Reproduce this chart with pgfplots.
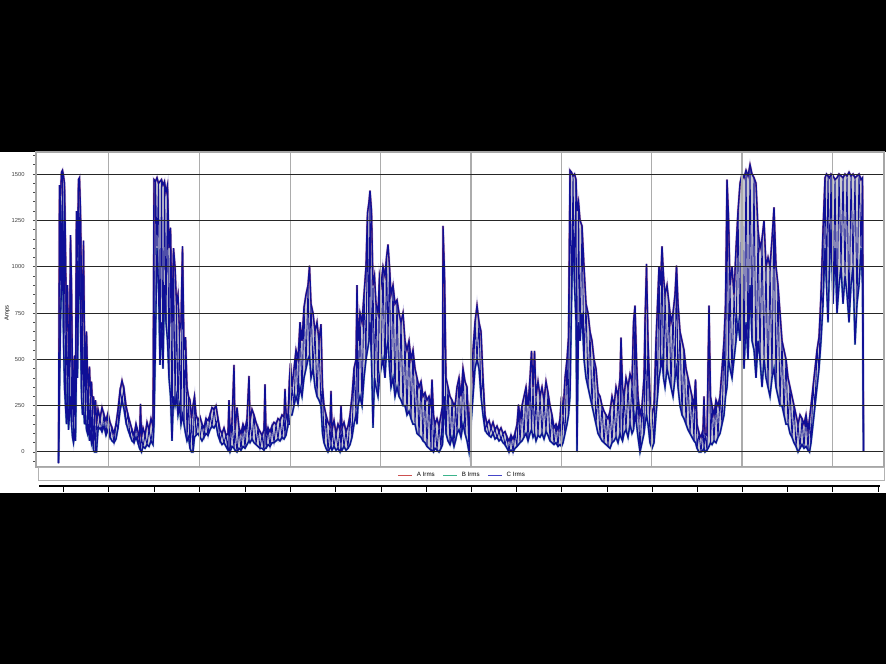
\documentclass[border=0pt]{standalone}
\usepackage{fontspec}
\setmainfont{Liberation Sans}
\usepackage{pgfplots}
\usepackage{pgfplotstable}
\pgfplotsset{compat=1.18}
\definecolor{cblue}{RGB}{15,15,150}
\definecolor{halo}{RGB}{120,120,205}
\definecolor{ared}{RGB}{190,30,30}
\definecolor{bteal}{RGB}{20,160,120}
\definecolor{fillgray}{RGB}{200,200,207}
\definecolor{lgred}{RGB}{205,80,80}
\definecolor{lgteal}{RGB}{60,180,140}
\definecolor{lgblue}{RGB}{70,70,200}

% x = sample position (horizontal pixel); hi/lo = upper and lower trace, c = C phase, in amps
\pgfplotstableread{
x hi lo c
58.5 -60 -60 -60
59.5 1440 320 320
60.5 1380 700 1380
61.5 1510 900 900
62.5 1520 1300 1520
63.5 1490 600 600
64.5 1450 350 1450
65.5 1100 250 250
66.5 650 150 650
67.5 900 400 400
68.5 550 120 550
69.5 480 200 200
70.5 1170 300 1170
71.5 900 150 150
72.5 420 80 420
73.5 300 50 50
74.5 520 100 520
75.5 350 60 60
76.5 1300 500 1300
77.5 1050 400 400
78.5 1470 900 1470
79.5 1480 1100 1100
80.5 1300 700 1300
81.5 900 300 300
82.5 700 200 700
83.5 1140 250 250
84.5 600 150 600
85.5 480 200 200
86.5 650 120 650
87.5 420 100 100
88.5 350 150 350
89.5 460 60 60
90.5 300 100 300
91.5 380 50 50
92.5 250 80 250
93.5 300 10 10
94.5 200 0 200
95.5 280 0 0
96.5 150 0 150
98 230 120 120
100 180 130 180
102 240 110 110
104 200 140 200
106 170 90 90
108 210 120 210
110 160 80 80
112 130 60 130
114 100 50 50
116 150 70 150
118 230 130 130
120 330 220 330
122 385 280 280
124 340 230 340
126 250 160 160
128 200 120 200
130 160 90 90
132 120 60 120
134 90 50 50
136 150 80 150
138 110 50 50
139.5 70 20 70
140.5 260 10 10
141.5 80 0 80
143 130 30 30
145 90 20 90
147 160 40 40
149 120 30 120
151 180 60 60
153 140 40 140
154 1470 150 150
155.5 1460 600 1460
157 1480 1100 1100
158.5 1450 900 1450
160 1460 470 470
161.5 1470 700 1470
163 1440 450 450
164.5 1460 900 1460
166 1400 700 700
167.5 1440 600 1440
169 1100 400 400
170.5 1210 300 1210
172 700 60 60
173.5 1100 300 1100
175 1000 250 250
176.5 800 300 800
178 850 200 200
179.5 650 250 650
181 700 150 150
182.5 1110 200 1110
184 550 150 150
185.5 620 100 620
187 350 60 60
188.5 300 80 300
190 280 20 20
191.5 180 0 180
193 250 0 0
194.5 300 80 300
196 200 90 90
198 170 100 170
200 190 80 80
202 150 60 150
204 130 80 80
206 180 100 180
208 170 90 90
210 200 120 200
212 240 140 140
214 230 130 230
216 250 150 150
218 180 90 180
220 120 60 60
222 100 40 100
224 130 50 50
226 90 30 90
228 100 10 10
229 280 20 280
230 110 0 0
232 160 30 160
234 470 20 20
235 120 10 120
237 240 0 0
239 130 20 130
241 100 10 10
243 150 30 150
245 120 20 20
247 180 40 180
249 410 60 60
250 170 50 170
252 230 70 70
254 200 50 200
256 160 40 40
258 130 30 130
260 110 20 20
262 90 20 90
264 120 10 10
265 365 20 365
266 100 20 20
268 130 40 130
270 110 30 30
272 140 50 140
274 160 50 50
276 150 60 150
278 180 70 70
280 170 60 170
282 200 80 80
284 190 70 190
285 340 80 80
286 210 90 210
288 180 150 150
289.5 400 150 400
290.5 480 200 200
292 350 200 350
294 450 250 250
296 550 300 550
298 500 260 260
300 700 350 700
302 600 300 300
304 780 400 780
306 850 450 450
308 900 500 900
309.5 1005 520 520
311 800 400 800
313 750 450 450
315 650 350 650
317 700 300 300
319 600 280 600
321 690 250 250
322.5 350 100 350
324 250 50 50
326 200 20 200
328 160 0 0
330 140 20 140
331 330 30 30
332 120 10 120
334 170 30 30
336 100 10 100
338 150 20 20
340 120 0 120
341 250 20 20
342 130 10 130
344 160 30 30
346 110 10 110
348 140 20 20
350 200 40 200
352 300 80 80
354 450 150 450
356 500 200 200
357 900 150 900
358 600 250 250
360 750 300 750
362 700 250 250
364 850 400 850
366 1000 500 500
367.5 1290 550 1290
369 1350 600 600
370 1410 700 1410
371.5 1300 500 500
373 900 130 900
374.5 950 400 400
376 800 350 800
378 750 300 300
379.5 950 400 950
381 900 450 450
383 1000 500 1000
385 950 400 400
386.5 1050 550 1050
388 1120 600 600
389.5 1000 450 1000
391 850 350 350
393 900 400 900
395 800 300 300
397 820 350 820
399 750 300 300
401 700 280 700
403 750 250 250
405 600 250 600
407 550 200 200
409 600 220 600
411 500 180 180
413 550 150 550
415 450 150 150
417 400 100 400
419 350 90 90
421 380 80 380
423 300 60 60
425 320 50 320
427 280 30 30
429 300 20 300
431 250 10 10
432 390 10 390
433.5 200 0 0
435 150 20 150
437 180 10 10
439 140 0 140
441 200 20 20
442.5 250 40 250
443 1220 100 100
444.5 960 300 960
446 400 100 100
448 350 60 350
450 300 40 40
452 280 80 280
454 250 30 30
455.5 270 60 270
457 350 100 100
459 400 120 400
461 300 80 80
463 450 150 450
465 380 100 100
467 350 60 350
469 100 0 0
471 300 150 300
473 550 300 300
475 700 450 700
477 790 500 500
479 700 450 700
481 650 300 300
483 400 200 400
485 200 120 120
487 150 100 150
489 170 90 90
491 130 80 130
493 160 100 100
495 120 70 120
497 140 80 80
499 110 60 110
501 130 70 70
503 100 50 100
505 110 40 40
507 80 20 80
509 60 0 0
511 90 10 90
513 70 0 0
515 100 20 100
517 150 30 30
518.5 255 40 255
520 180 50 50
522 250 60 250
524 300 80 80
526 350 100 350
528 250 60 60
530 400 100 400
531.5 545 120 120
533 350 80 350
534.5 545 100 100
536 300 60 300
538 380 90 90
540 300 80 300
542 350 100 100
544 280 70 280
546 380 110 110
548 320 90 320
550 250 60 60
552 200 50 200
554 130 40 40
556 150 50 150
558 120 30 30
560 180 40 180
561.5 300 30 30
563 200 50 200
565 400 100 100
567 500 150 500
568.5 620 200 200
570 1520 300 1520
571.5 1510 800 800
573 1490 1200 1490
574.5 1500 900 900
576 1470 700 1470
577 1300 0 0
578.5 1350 700 1350
580 1250 600 600
582 1220 750 1220
584 1000 500 500
586 800 400 800
588 750 350 350
590 650 300 650
592 600 250 250
594 500 200 500
596 450 150 150
598 320 100 320
600 300 80 80
602 250 60 250
604 220 50 50
606 200 40 200
608 180 30 30
610 220 20 220
612 300 50 50
614 250 60 250
616 350 80 80
618 300 50 300
620 400 100 100
621 617 80 617
622.5 350 60 60
624 300 100 300
626 400 120 120
628 350 80 350
630 420 150 150
632 380 100 380
633.5 700 120 120
635 790 200 790
636.5 500 150 150
638 300 80 300
640 200 0 0
642 250 50 250
644 400 100 100
645 700 150 700
646.5 1015 200 200
648 600 150 600
650 300 50 50
652 200 20 200
654 250 50 50
656 600 200 600
657.5 800 300 300
659 1000 400 1000
660.5 900 450 450
662 1110 500 1110
663.5 950 400 400
665 850 350 850
667 900 450 450
669 800 400 800
671 700 350 350
673 750 300 750
675 850 400 400
676.5 1005 450 1005
678 800 350 350
680 650 250 650
682 600 200 200
684 550 180 550
686 450 150 150
688 400 120 400
690 350 100 100
692 300 80 300
694 250 60 60
695.5 390 50 390
697 150 20 20
699 100 0 100
701 80 0 0
703 120 10 120
704 300 20 20
705 100 0 100
707 90 10 10
709 790 30 790
710.5 300 50 50
712 250 40 250
714 200 60 60
716 280 50 280
718 250 80 80
720 300 100 300
722 450 150 150
724 600 200 600
725.5 800 300 300
727 1470 350 1470
728.5 1270 500 500
730 900 450 900
732 1000 400 400
734 850 500 850
736 1100 600 600
738 1300 700 1300
740 1450 600 600
742 1500 800 1500
744 1480 450 450
746 1520 700 1520
748 1490 500 500
750 1550 900 1550
752 1500 600 600
754 1480 550 1480
756 1450 400 400
758 1200 600 1200
760 1100 500 500
762 1150 350 1150
764 1250 500 500
766 1000 400 1000
768 1050 350 350
770 1000 300 1000
772 1150 400 400
774 1320 450 1320
776 1000 350 350
778 900 300 900
780 750 250 250
782 600 250 600
784 550 200 200
786 500 150 500
788 400 150 150
790 350 100 350
792 300 80 80
794 250 50 250
796 200 30 30
798 150 0 150
800 200 20 20
802 180 40 180
804 150 20 20
806 200 30 200
808 120 10 10
809.5 180 0 180
811 250 50 50
813 350 150 350
815 450 250 250
817 550 350 550
819 620 450 450
821 850 600 850
823 1200 800 800
825 1480 1100 1480
826.5 1500 900 900
828 1490 700 1490
829.5 1480 1000 1000
831 1500 1200 1500
833 1490 800 800
835 1470 1100 1470
837 1480 750 750
839 1500 900 1500
841 1490 1000 1000
843 1480 800 1480
845 1500 950 950
847 1490 850 1490
849 1510 700 700
851 1490 900 1490
853 1500 1000 1000
855 1480 580 1480
857 1490 800 800
859 1500 900 1500
861 1470 1100 1100
862.5 1480 900 1480
863.5 0 0 0
}\irms

\begin{document}
\begin{tikzpicture}
\fill[black] (0,0) rectangle (443pt,332pt);
\fill[white] (0,85.5pt) rectangle (443pt,256pt);
\begin{axis}[
  at={(18pt,98.5pt)}, anchor=south west,
  scale only axis, width=424pt, height=157.5pt,
  xmin=36, xmax=884, ymin=-81, ymax=1619,
  axis on top,
  xtick={108.7,199.7,290.3,380.3,471,561.3,651.3,742,832.7},
  xticklabels={},
  xtick style={draw=none},
  ytick={0,250,...,1500},
  minor ytick={-50,0,...,1600},
  ytick pos=left,
  tick align=outside,
  major tick length=1.6pt, minor tick length=1.4pt,
  ytick style={gray!60!black, line width=0.35pt},
  xmajorgrids, ymajorgrids,
  x grid style={gray!65, line width=0.6pt},
  y grid style={black!85, line width=0.5pt},
  axis line style={gray!70, line width=0.6pt},
  /pgf/number format/1000 sep={},
  /pgf/number format/assume math mode=true,
  tick label style={font=\fontsize{2.9}{3}\selectfont, text=black!75},
  yticklabel style={xshift=-0.6pt},
  ylabel={Amps},
  ylabel style={at={(axis description cs:-0.034,0.49)}, anchor=center, font=\fontsize{2.9}{3}\selectfont},
  legend columns=3,
  legend style={at={(0.504,-0.0276)}, anchor=center, draw=none, fill=none,
    font=\fontsize{3.1}{3.1}\selectfont, inner sep=0pt,
    /tikz/every even column/.append style={column sep=2pt}},
  legend image code/.code={\draw[#1, line width=0.5pt] (0pt,0pt) -- (7pt,0pt);},
]
% gray band between the traces: fill under the upper trace, then clear under the lower one
\addplot[draw=none, fill=fillgray, forget plot] table[x=x, y=hi] {\irms} \closedcycle;
\addplot[draw=none, fill=white, forget plot] table[x=x, y=lo] {\irms} \closedcycle;
\addplot[ared, line width=0.7pt, legend image post style={draw=lgred}] table[x=x, y=hi] {\irms};
\addlegendentry{A Irms}
\addplot[bteal, line width=0.7pt, legend image post style={draw=lgteal}] table[x=x, y=lo] {\irms};
\addlegendentry{B Irms}
\addplot[halo, opacity=0.3, line width=1.3pt, forget plot] table[x=x, y=hi] {\irms};
\addplot[halo, opacity=0.3, line width=1.3pt, forget plot] table[x=x, y=lo] {\irms};
\addplot[cblue, line width=0.45pt, legend image post style={draw=lgblue}] table[x=x, y=c] {\irms};
\addlegendentry{C Irms}
\addplot[cblue, line width=0.65pt, forget plot] table[x=x, y=hi] {\irms};
\addplot[cblue, line width=0.65pt, forget plot] table[x=x, y=lo] {\irms};
\end{axis}
\draw[gray!60, line width=0.4pt] (19pt,92pt) rectangle (442pt,98.5pt);
\draw[black, line width=1.2pt] (19.5pt,89pt) -- (440pt,89pt);
\foreach \t in {63,108.5,154,199.5,245,290,335.5,381,426,471,516.5,561.5,607,652,697,742,787.5,832.5,878}
  \draw[black, line width=0.5pt] ({\t*0.5pt},89pt) -- ({\t*0.5pt},86pt);
\pgfresetboundingbox
\path[use as bounding box] (0,0) rectangle (443pt,332pt);
\end{tikzpicture}
\end{document}
